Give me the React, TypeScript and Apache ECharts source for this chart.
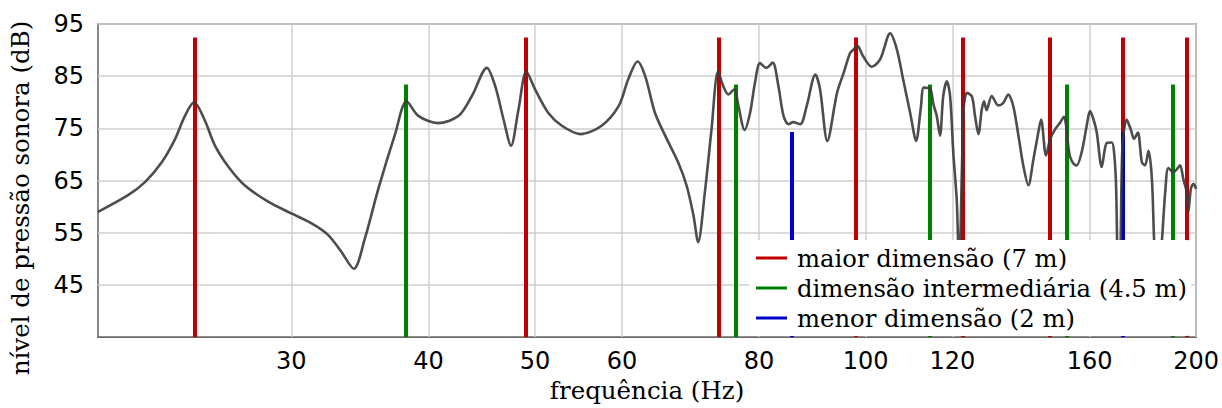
import React, { useEffect, useRef } from 'react';
import * as echarts from 'echarts';

// Curve: sound pressure level vs frequency
const FREQ_HZ = [
  20.0, 21.3, 22.07, 22.86, 23.5, 24.0, 24.46, 25.0, 25.56, 26.3, 27.2, 28.6, 30.0, 31.3, 32.4, 33.3, 34.2, 35.0, 36.0, 37.3,
  38.2, 39.15, 40.8, 42.6, 43.8, 45.2, 46.0, 46.8, 47.55, 48.3, 49.1, 50.0, 51.4, 52.9, 55.0, 57.5, 59.6, 60.8, 62.0, 63.0,
  64.3, 65.7, 67.5, 68.7, 69.7, 70.4, 71.4, 72.4, 73.4, 74.2, 75.0, 75.95, 76.6, 77.6, 78.5, 79.3, 80.15, 81.2, 82.3, 83.3,
  84.2, 85.1, 85.9, 87.2, 88.4, 90.0, 90.9, 92.3, 94.2, 95.5, 96.8, 97.5, 98.3, 99.5, 101.3, 103.1, 105.3, 106.8, 108.2, 109.8,
  111.2, 112.3, 113.0, 114.5, 115.3, 116.1, 116.9, 117.7, 118.6, 119.4, 120.2, 121.1, 121.7, 122.4, 122.9, 123.7, 125.0, 125.8, 126.7, 127.6,
  128.2, 128.9, 130.3, 132.1, 133.5, 134.9, 136.3, 137.8, 139.2, 140.7, 142.2, 143.4, 144.5, 146.0, 147.3, 148.8, 150.4, 151.6, 152.3, 153.0,
  153.6, 154.6, 155.7, 157.4, 159.0, 160.1, 161.3, 162.4, 164.1, 165.8, 167.6, 168.4, 169.1, 169.9, 170.6, 171.4, 172.9, 174.4, 175.6, 177.0,
  178.5, 179.7, 181.0, 182.3, 183.3, 184.7, 186.1, 187.5, 188.7, 190.7, 192.1, 193.4, 194.7, 196.1, 196.8, 197.8, 198.9, 200.0,
];
const NIVEL_DB = [
  59.0, 62.2, 64.7, 68.5, 72.9, 77.4, 80.0, 76.7, 71.7, 67.6, 64.1, 60.9, 58.7, 56.8, 54.6, 51.4, 48.1, 53.9, 63.4, 74.0,
  80.2, 77.4, 76.0, 77.4, 81.2, 86.6, 83.1, 76.8, 71.7, 78.6, 85.9, 82.5, 78.0, 75.5, 73.9, 75.5, 79.3, 84.4, 87.8, 85.0,
  78.0, 73.6, 68.5, 64.1, 58.4, 53.2, 62.8, 74.8, 85.9, 83.1, 81.5, 82.5, 79.3, 74.7, 78.0, 83.7, 87.5, 86.6, 87.6, 83.1,
  77.4, 75.8, 76.2, 75.8, 79.3, 85.3, 82.5, 72.6, 81.8, 85.6, 89.4, 90.1, 90.8, 88.8, 86.8, 88.2, 93.2, 90.1, 84.4, 78.0,
  72.6, 79.0, 82.8, 82.6, 79.6, 77.4, 73.6, 81.2, 84.0, 81.2, 70.4, 60.9, 47.0, 67.2, 79.3, 81.8, 81.1, 77.4, 73.9, 78.6,
  80.2, 78.5, 81.2, 79.4, 79.9, 81.5, 79.3, 73.6, 67.9, 64.1, 69.1, 73.3, 76.7, 69.8, 73.0, 74.8, 76.1, 77.2, 75.5, 71.5,
  69.5, 68.3, 67.9, 70.6, 75.5, 78.3, 76.7, 74.2, 67.6, 72.2, 72.3, 70.4, 64.1, 45.0, 50.0, 71.7, 76.7, 74.8, 73.0, 74.2,
  68.5, 67.9, 70.7, 65.3, 52.0, 45.0, 53.0, 63.0, 67.4, 66.6, 67.2, 67.9, 65.3, 62.8, 59.0, 63.4, 64.4, 63.4,
];

// Axial room modes (Hz)
const MODOS_MAIOR = [24.5, 49, 73.5, 98, 122.5, 147, 171.5, 196];
const MODOS_INTERMEDIARIA = [38.11, 76.22, 114.33, 152.44, 190.56];
const MODOS_MENOR = [85.75, 171.5];
const TOPO_MAIOR = 92.4;
const TOPO_INTERMEDIARIA = 83.4;
const TOPO_MENOR = 74.3;

const NOMES = ['maior dimensão (7 m)', 'dimensão intermediária (4.5 m)', 'menor dimensão (2 m)'];
const CORES = ['#c00000', '#008000', '#0000cc'];

const X_MIN = 20;
const X_MAX = 200;
const X_TICKS = [30, 40, 50, 60, 80, 100, 120, 160, 200];
const Y_MIN = 35;
const Y_MAX = 95;
const Y_TICKS = [45, 55, 65, 75, 85, 95];

const modeSeries = (name: string, color: string, freqs: number[], top: number) => ({
  name,
  type: 'line',
  data: [],
  color,
  itemStyle: { color },
  lineStyle: { color, width: 4 },
  silent: true,
  markLine: {
    silent: true,
    symbol: 'none',
    z: 1,
    animation: false,
    label: { show: false },
    emphasis: { disabled: true },
    lineStyle: { color, width: 4, type: 'solid', opacity: 1 },
    data: freqs.map((f) => [{ coord: [f, Y_MIN] }, { coord: [f, top] }]),
  },
});

export default function App() {
  const ref = useRef<HTMLDivElement>(null);
  useEffect(() => {
    if (!ref.current) return;
    const chart = echarts.init(ref.current, undefined, { renderer: 'svg' });
    const sans = 'DejaVu Sans';
    const serif = 'DejaVu Serif';
    chart.setOption({
      animation: false,
      backgroundColor: '#ffffff',
      grid: {
        left: 98,
        top: 24,
        right: 25,
        bottom: 67,
        show: true,
        borderColor: '#6a6a6a',
        borderWidth: 1.6,
        backgroundColor: 'transparent',
        z: 0,
      },
      xAxis: {
        type: 'log',
        logBase: 10,
        min: X_MIN,
        max: X_MAX,
        name: 'frequência (Hz)',
        nameLocation: 'middle',
        nameGap: 40,
        nameTextStyle: { fontFamily: serif, fontSize: 24.5, color: '#000', lineHeight: 24 },
        axisLine: { show: false },
        axisTick: { show: false, customValues: X_TICKS },
        axisLabel: {
          customValues: X_TICKS,
          formatter: (v: number) => String(Math.round(v)),
          fontFamily: sans,
          fontSize: 24,
          color: '#000',
          margin: 12,
          lineHeight: 24,
        },
        splitLine: { show: true, lineStyle: { color: '#cfcfcf', width: 1.5 } },
        minorSplitLine: { show: false },
      },
      yAxis: {
        type: 'value',
        min: Y_MIN,
        max: Y_MAX,
        axisLine: { show: false },
        axisTick: { show: false, customValues: Y_TICKS },
        axisLabel: {
          customValues: Y_TICKS,
          fontFamily: sans,
          fontSize: 24,
          color: '#000',
          margin: 14,
        },
        splitLine: { show: true, lineStyle: { color: '#cfcfcf', width: 1.5 } },
      },
      legend: {
        data: NOMES.map((n) => ({ name: n, icon: 'rect' })),
        orient: 'vertical',
        left: 749,
        top: 240,
        itemWidth: 31,
        itemHeight: 3,
        itemGap: 6,
        padding: [6, 4, 6, 7],
        backgroundColor: '#ffffff',
        borderRadius: 4,
        selectedMode: false,
        z: 10,
        textStyle: { fontFamily: serif, fontSize: 24.3, color: '#000', lineHeight: 24, padding: [0, 0, 0, 5] },
      },
      graphic: [
        {
          type: 'text',
          x: 20,
          y: 198,
          rotation: Math.PI / 2,
          silent: true,
          style: {
            text: 'nível de pressão sonora (dB)',
            fontFamily: serif,
            fontSize: 24.5,
            fill: '#000',
            align: 'center',
            verticalAlign: 'middle',
          },
        },
      ],
      series: [
        modeSeries(NOMES[0], CORES[0], MODOS_MAIOR, TOPO_MAIOR),
        modeSeries(NOMES[1], CORES[1], MODOS_INTERMEDIARIA, TOPO_INTERMEDIARIA),
        modeSeries(NOMES[2], CORES[2], MODOS_MENOR, TOPO_MENOR),
        {
          name: 'curva',
          type: 'line',
          data: FREQ_HZ.map((f, i) => [f, NIVEL_DB[i]]),
          showSymbol: false,
          symbol: 'none',
          smooth: 0.3,
          clip: true,
          silent: true,
          z: 3,
          lineStyle: { color: '#3a3a3a', width: 2.6, opacity: 0.9 },
        },
      ],
    });
    return () => chart.dispose();
  }, []);
  return <div ref={ref} style={{ position: 'fixed', left: 0, top: 0, width: 1222, height: 408 }} />;
}
